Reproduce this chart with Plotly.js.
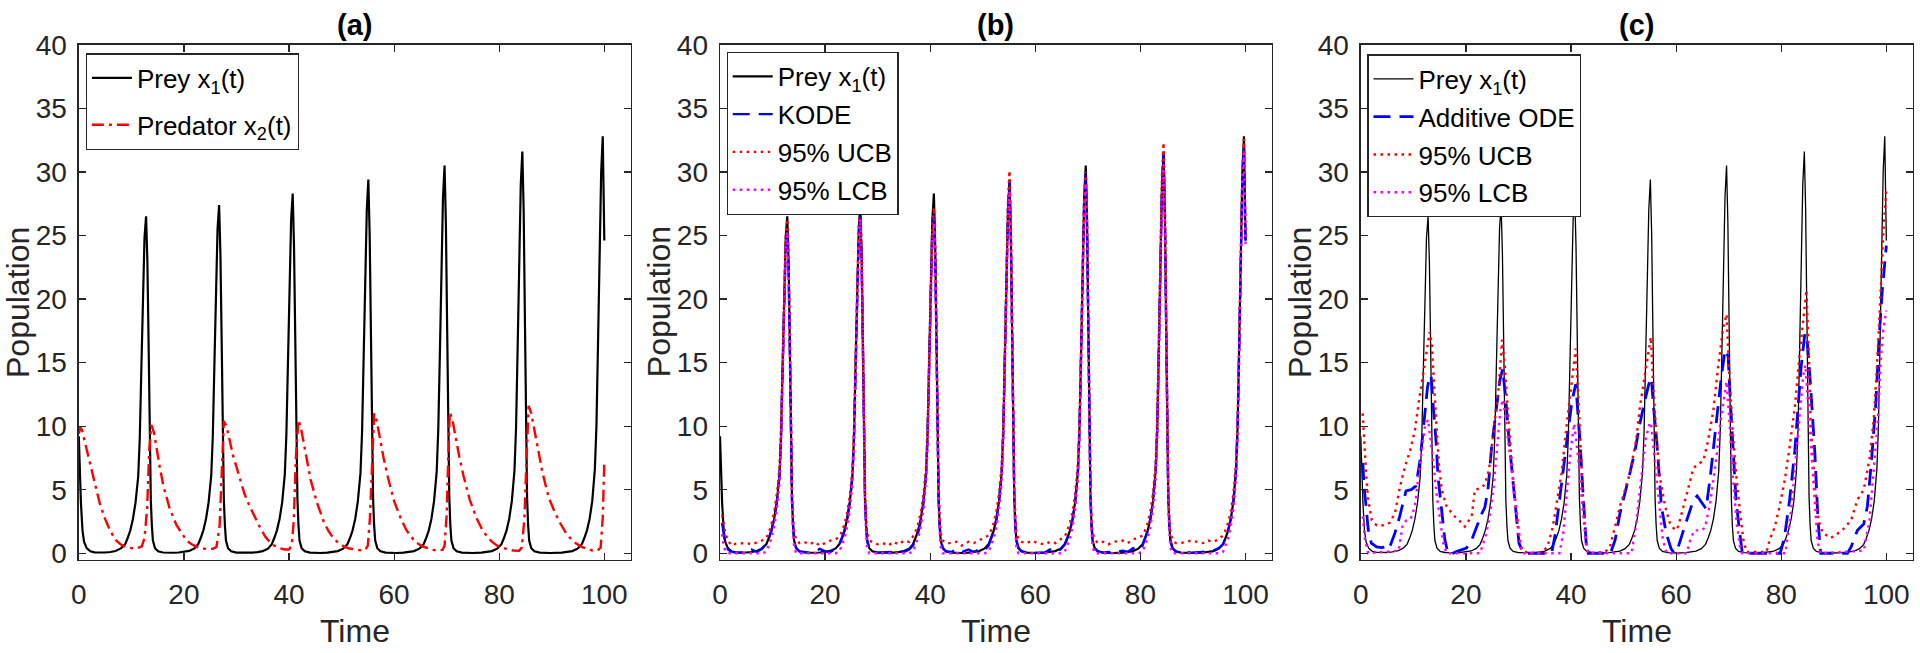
<!DOCTYPE html>
<html>
<head>
<meta charset="utf-8">
<script src="https://cdn.plot.ly/plotly-3.0.1.min.js"></script>
<style>
html,body{margin:0;padding:0;background:#fff;}
#chart{width:1920px;height:653px;}
</style>
</head>
<body>
<div id="chart"></div>
<script>
// ---------------- DATA ----------------
const xTickVals = [0, 20, 40, 60, 80, 100];
const yTickVals = [0, 5, 10, 15, 20, 25, 30, 35, 40];
const panelTitles = ['(a)', '(b)', '(c)'];

// Prey x1(t) (shared by all three panels)
const tPrey = [
  0, 0.2, 0.4, 0.7, 1.0, 1.5, 2.2, 3, 4,
  5, 6, 7, 8, 8.8, 9.3, 9.8, 10.3, 10.8, 11.3, 11.6, 11.9, 12.2, 12.5, 12.8,
  13.05, 13.3, 13.5, 13.7, 13.9, 14.1, 14.5, 15.1, 16, 17, 18,
  19, 20, 21, 22, 22.7, 23.2, 23.7, 24.2, 24.7, 25.2, 25.5, 25.8, 26.1, 26.4, 26.7,
  26.95, 27.2, 27.4, 27.6, 27.8, 28.0, 28.4, 29, 30, 31, 32,
  33, 34, 35, 36, 36.7, 37.2, 37.7, 38.2, 38.7, 39.2, 39.5, 39.8, 40.1, 40.4, 40.7,
  40.95, 41.2, 41.4, 41.6, 41.8, 42.0, 42.4, 43, 44, 45, 46,
  47.3, 48.3, 49.3, 50.3, 51.1, 51.6, 52.1, 52.6, 53.1, 53.6, 53.9, 54.2, 54.5, 54.8, 55.1,
  55.35, 55.6, 55.8, 56.0, 56.2, 56.4, 56.8, 57.4, 58.4, 59.4, 60.4,
  61.8, 62.8, 63.8, 64.8, 65.6, 66.1, 66.6, 67.1, 67.6, 68.1, 68.4, 68.7, 69.0, 69.3, 69.6,
  69.85, 70.1, 70.3, 70.5, 70.7, 70.9, 71.3, 71.9, 72.9, 73.9, 74.9,
  76.6, 77.6, 78.6, 79.6, 80.4, 80.9, 81.4, 81.9, 82.4, 82.9, 83.2, 83.5, 83.8, 84.1, 84.4,
  84.65, 84.9, 85.1, 85.3, 85.5, 85.7, 86.1, 86.7, 87.7, 88.7, 89.7,
  91.9, 92.9, 93.9, 94.9, 95.7, 96.2, 96.7, 97.2, 97.7, 98.2, 98.5, 98.8, 99.1, 99.4, 99.7, 100
];
const prey = [
  9.2, 6.0, 4.0, 1.8, 0.9, 0.4, 0.15, 0.07, 0.05,
  0.06, 0.1, 0.18, 0.38, 0.7, 1.2, 1.8, 2.7, 4.0, 6.0, 9.0, 14.5, 20.5, 24.8, 26.5,
  23, 16, 8.5, 4.2, 2.2, 1.0, 0.4, 0.15, 0.06, 0.04, 0.04,
  0.06, 0.1, 0.18, 0.38, 0.7, 1.2, 1.8, 2.7, 4.0, 6.1, 9.2, 14.8, 21, 25.5, 27.4,
  23.5, 16.3, 8.6, 4.2, 2.2, 1.0, 0.4, 0.15, 0.05, 0.03, 0.03,
  0.05, 0.09, 0.17, 0.36, 0.7, 1.2, 1.8, 2.7, 4.0, 6.2, 9.3, 15, 21.5, 26.2, 28.3,
  24.2, 16.6, 8.7, 4.3, 2.2, 1.0, 0.4, 0.15, 0.05, 0.03, 0.02,
  0.05, 0.09, 0.17, 0.36, 0.7, 1.2, 1.8, 2.7, 4.1, 6.3, 9.5, 15.3, 22, 27, 29.4,
  25, 17, 8.8, 4.3, 2.2, 1.0, 0.4, 0.15, 0.05, 0.03, 0.02,
  0.05, 0.09, 0.17, 0.36, 0.7, 1.2, 1.8, 2.7, 4.1, 6.4, 9.7, 15.5, 22.5, 28, 30.5,
  26, 17.5, 9, 4.4, 2.2, 1.0, 0.4, 0.15, 0.05, 0.03, 0.02,
  0.05, 0.09, 0.17, 0.36, 0.7, 1.2, 1.8, 2.7, 4.1, 6.5, 9.8, 16, 23, 29, 31.6,
  27, 18, 9, 4.4, 2.2, 1.0, 0.4, 0.15, 0.05, 0.03, 0.02,
  0.05, 0.09, 0.17, 0.36, 0.7, 1.2, 1.8, 2.7, 4.1, 6.6, 10, 16.5, 23.5, 30, 32.8, 24.6
];

// Predator x2(t) (panel a)
const tPred = [
  0, 0.3, 0.6, 1, 2, 3, 4, 5, 6, 7, 8, 9, 10, 11, 12, 12.5, 13, 13.4, 13.8,
  14.3, 14.8, 15.4, 16.1, 17.3, 18.6, 19.5, 20.5, 21.5, 22.4, 23.5, 24.5, 25.5, 26.2, 26.8, 27.2, 27.6,
  28.1, 28.6, 29.4, 30.0, 30.6, 31.5, 32.5, 33.5, 34.4, 35.5, 36.3, 37.2, 38.2, 39.2, 40.0, 40.5, 40.9, 41.3, 41.8,
  42.3, 42.8, 43.4, 44.1, 45.3, 46.6, 47.5, 48.5, 49.5, 50.5, 51.5, 52.5, 53.5, 54.5, 55.0, 55.4, 55.8, 56.2,
  56.7, 57.3, 58.0, 58.8, 60.0, 61.3, 62.3, 63.3, 64.3, 65.3, 66.3, 67.3, 68.3, 69.2, 69.6, 70.0, 70.3, 70.6,
  71.1, 71.7, 72.4, 73.2, 74.4, 75.7, 76.7, 77.7, 78.7, 79.7, 80.7, 81.7, 82.7, 83.8, 84.3, 84.8, 85.2, 85.6,
  86.1, 86.7, 87.4, 88.2, 89.4, 90.7, 91.7, 92.7, 93.7, 94.7, 95.7, 96.7, 97.7, 98.7, 99.3, 99.7, 100
];
const predator = [
  9.4, 9.9, 9.7, 9.0, 7.3, 5.4, 3.9, 2.7, 1.75, 1.05, 0.68, 0.48, 0.4, 0.38, 0.55, 1.2, 3.5, 8.1, 10.1,
  9.5, 8.1, 6.8, 5.3, 3.5, 2.2, 1.6, 1.0, 0.7, 0.5, 0.38, 0.33, 0.35, 0.5, 2.2, 6.9, 10.4,
  10.0, 9.1, 7.6, 6.8, 5.9, 4.7, 3.7, 2.8, 2.1, 1.3, 0.9, 0.6, 0.4, 0.3, 0.3, 0.6, 2.5, 7.5, 10.5,
  9.8, 8.6, 7.3, 5.8, 4.0, 2.5, 1.75, 1.15, 0.78, 0.52, 0.37, 0.28, 0.24, 0.26, 0.6, 2.8, 7.5, 11.0,
  10.4, 9.0, 7.5, 6.0, 4.1, 2.7, 1.85, 1.25, 0.82, 0.55, 0.38, 0.27, 0.22, 0.26, 0.6, 3.0, 7.5, 11.1,
  10.5, 9.1, 7.6, 6.1, 4.2, 2.75, 1.9, 1.3, 0.87, 0.58, 0.4, 0.28, 0.22, 0.2, 0.45, 2.8, 7.5, 11.6,
  11.0, 9.6, 8.0, 6.4, 4.4, 3.1, 2.3, 1.6, 1.1, 0.75, 0.5, 0.33, 0.22, 0.2, 0.45, 2.8, 7.2
];

// Panel b (same time grid as tPrey)
const kode = [
  null, null, 2.4, 1.3, 0.7, 0.3, 0.1, 0.05, 0.05,
  0.2, 0.3, 0.1, 0.35, 0.75, 1.2, 1.8, 2.7, 4.0, 6.0, 9.0, 14.3, 20, 24, 25.4,
  22.5, 15.8, 8.4, 4.2, 2.2, 1.0, 0.4, 0.15, 0.1, 0.05, 0.1,
  0.35, 0.15, 0.1, 0.35, 0.7, 1.2, 1.8, 2.7, 4.0, 6.1, 9.2, 14.6, 20.6, 25, 26.8,
  23, 16, 8.5, 4.2, 2.2, 1.0, 0.4, 0.15, 0.05, 0.05, 0.05,
  0.1, 0.15, 0.1, 0.3, 0.6, 1.0, 1.6, 2.5, 3.9, 6.1, 9.2, 14.8, 21, 25.5, 26.6,
  23.5, 16.3, 8.6, 4.3, 2.2, 1.0, 0.4, 0.15, 0.1, 0.3, 0.1,
  0.3, 0.1, 0.3, 0.2, 0.6, 1.2, 1.8, 2.7, 4.1, 6.3, 9.5, 15.3, 22, 27, 29.2,
  24.8, 16.8, 8.8, 4.3, 2.2, 1.0, 0.4, 0.15, 0.05, 0.05, 0.05,
  0.05, 0.3, 0.1, 0.3, 0.7, 1.2, 1.8, 2.7, 4.1, 6.4, 9.7, 15.5, 22.5, 27.8, 29.8,
  25.5, 17.3, 9, 4.4, 2.2, 1.0, 0.4, 0.15, 0.05, 0.1, 0.05,
  0.2, 0.1, 0.4, 0.2, 0.6, 1.2, 1.8, 2.7, 4.1, 6.5, 9.8, 16, 23, 28.8, 31.4,
  26.8, 17.8, 9, 4.4, 2.2, 1.0, 0.4, 0.15, 0.05, 0.1, 0.05,
  0.1, 0.3, 0.2, 0.4, 0.7, 1.2, 1.8, 2.7, 4.1, 6.6, 10, 16.3, 23.2, 29.5, 32.2, 24.6
];
const ucbB = [
  null, null, 3.0, 2.2, 1.6, 1.0, 0.6, 0.75, 0.8,
  0.8, 0.7, 0.85, 1.0, 1.2, 1.6, 2.3, 3.2, 4.6, 6.6, 9.6, 15, 21, 25, 26.3,
  23, 16.5, 9, 4.8, 2.8, 1.6, 1.1, 0.8, 0.9, 0.7, 0.9,
  0.6, 0.8, 1.0, 1.1, 1.3, 1.7, 2.3, 3.2, 4.5, 6.6, 9.7, 15.2, 21.3, 25.7, 27.3,
  23.6, 16.5, 9, 4.8, 2.8, 1.6, 1.0, 0.9, 0.7, 0.8, 0.6,
  0.9, 0.7, 1.0, 0.9, 1.3, 1.7, 2.3, 3.2, 4.5, 6.7, 9.8, 15.3, 21.5, 25.8, 27.2,
  24, 17, 9.2, 4.9, 2.8, 1.6, 1.0, 0.8, 0.8, 0.9, 0.6,
  0.9, 0.8, 1.0, 1.2, 1.4, 1.8, 2.4, 3.3, 4.7, 6.9, 10, 15.8, 22.6, 27.8, 30.1,
  25.5, 17.5, 9.3, 4.9, 2.8, 1.6, 1.1, 0.9, 0.8, 1.0, 0.8,
  0.7, 0.9, 0.8, 1.1, 1.3, 1.8, 2.4, 3.3, 4.7, 7.0, 10.2, 16, 23, 28, 30,
  26, 17.8, 9.5, 5.0, 2.8, 1.6, 1.1, 0.8, 0.9, 0.7, 0.9,
  1.0, 0.8, 1.1, 1.2, 1.4, 1.8, 2.4, 3.3, 4.7, 7.1, 10.4, 16.6, 23.7, 29.7, 32.3,
  27.5, 18.5, 9.5, 5.0, 2.8, 1.6, 1.1, 0.8, 0.8, 0.9, 1.0,
  0.8, 1.0, 0.9, 1.1, 1.4, 1.8, 2.4, 3.3, 4.7, 7.2, 10.6, 17, 24, 30.2, 32.6, 25
];
const lcbB = [
  null, null, 1.5, 0.6, 0.2, 0, 0, 0, 0,
  0, 0, 0, 0, 0.1, 0.6, 1.2, 2.1, 3.4, 5.4, 8.4, 13.8, 19.8, 24, 25.3,
  22, 15.5, 8, 3.7, 1.7, 0.5, 0, 0, 0, 0, 0,
  0, 0, 0, 0, 0.1, 0.6, 1.2, 2.1, 3.4, 5.5, 8.6, 14.2, 20.3, 24.6, 26.3,
  22.5, 15.5, 8, 3.7, 1.7, 0.5, 0, 0, 0, 0, 0,
  0, 0, 0, 0, 0.1, 0.6, 1.2, 2.1, 3.4, 5.6, 8.7, 14.3, 20.6, 24.8, 26,
  23, 15.8, 8.1, 3.8, 1.7, 0.5, 0, 0, 0, 0, 0,
  0, 0, 0, 0, 0.1, 0.6, 1.2, 2.1, 3.5, 5.7, 8.9, 14.6, 21.2, 26.2, 28.5,
  24.2, 16.4, 8.3, 3.8, 1.7, 0.5, 0, 0, 0, 0, 0,
  0, 0, 0, 0, 0.1, 0.6, 1.2, 2.1, 3.5, 5.8, 9.1, 14.8, 21.7, 27.2, 29.1,
  25.2, 16.8, 8.5, 3.9, 1.7, 0.5, 0, 0, 0, 0, 0,
  0, 0, 0, 0, 0.1, 0.6, 1.2, 2.1, 3.5, 5.9, 9.2, 15.3, 22.2, 28.2, 30.6,
  26.2, 17.4, 8.5, 3.9, 1.7, 0.5, 0, 0, 0, 0, 0,
  0, 0, 0, 0, 0.1, 0.6, 1.2, 2.1, 3.5, 6, 9.4, 15.8, 22.8, 29.2, 31.5, 24.3
];

// Panel c
const tAdd = [0.4, 0.6, 1.0, 1.4, 2.0, 3.0, 4.0, 4.6, 5.2, 5.6, 6.5, 7.4, 8.6, 9.6, 10.5, 11.3, 12.0, 12.7, 13.2, 13.4,
  13.8, 14.3, 14.7, 15.4, 16.0, 16.6, 17.5, 18.2, 19.2, 20.1, 21.1, 22.0, 23.0, 23.6, 24.2, 24.9, 25.7, 26.5, 27.0, 27.6,
  28.2, 28.9, 29.5, 30.1, 30.9, 36.3, 37.0, 37.8, 38.6, 39.4, 40.2, 40.9, 41.7, 42.2, 42.7, 43.0, 47.5, 48.4, 49.3, 50.3,
  51.2, 52.2, 53.1, 54.1, 54.8, 55.3, 55.7, 56.3, 56.8, 57.2, 58.1, 59.0, 59.6, 60.4, 61.4, 62.3, 63.3, 64.0, 65.0, 65.7,
  66.5, 67.5, 68.5, 69.3, 69.9, 70.3, 70.8, 71.4, 72.1, 72.6, 79.8, 80.6, 81.6, 82.6, 83.2, 83.8, 84.5, 85.0, 85.6, 86.4,
  87.0, 87.5, 92.6, 93.3, 94.5, 95.7, 96.4, 97.2, 98.0, 98.6, 99.2, 100];
const additive = [7.1, 5.3, 3.7, 1.9, 0.8, 0.5, 0.45, 0.5, 0.3, 0.6, 1.6, 2.9, 4.9, 5.0, 5.3, 7.4, 10.2, 13.1, 14.0, 13.9,
  11.5, 8.9, 6.0, 3.1, 1.05, 0, 0, 0.13, 0.26, 0.4, 1.05, 2.1, 3.1, 3.6, 5.0, 8.4, 11.3, 13.7, 14.5, 12.1,
  8.9, 5.8, 2.9, 0.8, 0, 0, 1.5, 4.0, 6.8, 9.5, 12.0, 13.3, 8.9, 5.3, 2.1, 0, 0, 1.05, 3.1, 4.7,
  6.3, 8.1, 10.2, 12.1, 13.3, 13.8, 11.5, 8.9, 6.0, 3.7, 1.6, 0.4, 0, 0.5, 1.8, 2.9, 4.2, 4.5, 3.9, 3.5,
  6.0, 10.0, 13.5, 16.0, 15.5, 12.1, 8.1, 4.2, 1.6, 0, 0, 1.2, 4.2, 8.1, 11.5, 14.7, 17.3, 16.5, 13.1, 7.9,
  2.6, 0, 0, 0.5, 1.8, 2.3, 3.7, 7.4, 11.8, 16.8, 20.5, 24.2];

const tUcbC = [0.36, 0.6, 1.0, 1.4, 2.1, 3.0, 4.3, 5.5, 6.5, 7.5, 8.4, 9.4, 10.3, 11.1, 11.9, 12.7, 13.1, 13.5, 13.9, 14.4,
  14.9, 15.4, 16.3, 17.6, 18.9, 19.8, 21.1, 21.7, 22.7, 23.6, 24.4, 25.2, 26.2, 26.9, 27.4, 28.0, 28.7, 29.3, 30.0, 30.6,
  32.0, 34.5, 35.5, 36.5, 37.3, 38.2, 39.2, 40.4, 40.9, 41.4, 41.8, 42.3, 42.8, 43.3, 46.5, 47.4, 48.4, 49.3, 50.3, 51.2,
  52.4, 53.1, 54.3, 55.2, 55.6, 56.3, 56.9, 57.9, 58.8, 59.8, 60.4, 61.4, 62.3, 63.3, 64.2, 65.2, 66.1, 67.1, 68.0, 68.9,
  69.6, 70.2, 70.8, 71.4, 72.1, 72.8, 73.4, 77.2, 77.8, 78.8, 79.7, 80.7, 81.6, 82.6, 83.4, 84.2, 84.8, 85.3, 85.6, 86.4,
  87.1, 87.9, 89.4, 90.6, 91.8, 93.3, 94.5, 95.7, 96.8, 97.6, 98.2, 98.8, 99.4, 100];
const ucbC = [11.0, 8.9, 6.3, 4.2, 2.6, 2.2, 2.2, 2.4, 3.15, 5.3, 6.8, 8.1, 9.7, 12.1, 14.2, 16.5, 17.4, 16.5, 13.4, 10.0,
  6.8, 5.0, 3.7, 3.0, 2.5, 2.1, 2.9, 5.0, 5.1, 5.4, 6.6, 9.4, 12.9, 16.8, 14.7, 11.0, 7.3, 4.2, 1.6, 0.25,
  0, 0.1, 0.5, 2.0, 4.0, 6.3, 10.2, 14.7, 16.1, 12.1, 8.1, 4.2, 1.05, 0, 0.1, 0.5, 2.1, 3.7, 5.0, 6.3,
  8.9, 11.5, 14.7, 17.0, 13.4, 8.9, 6.0, 3.7, 2.4, 1.8, 2.1, 3.7, 5.3, 6.7, 7.0, 7.3, 8.9, 11.3, 14.7, 17.6,
  18.8, 13.4, 9.4, 6.3, 3.5, 1.05, 0.1, 0.1, 1.05, 2.1, 3.7, 5.8, 8.4, 11.5, 15.2, 18.4, 20.7, 15.0, 10.5, 5.3,
  2.6, 1.6, 1.2, 1.5, 1.9, 2.6, 4.2, 5.0, 7.4, 10.5, 14.5, 19.5, 25.0, 28.7];

const tLcbC = [0.36, 0.8, 1.4, 7.2, 8.0, 8.7, 9.5, 10.3, 10.9, 11.6, 12.2, 12.8, 13.3, 13.9, 14.4, 15.1, 15.7, 16.3, 22.7, 23.9,
  24.6, 25.3, 26.0, 26.6, 27.1, 27.7, 28.4, 29.0, 29.6, 30.3, 30.8, 37.8, 38.5, 39.2, 39.9, 40.6, 41.5, 42.2, 42.8, 43.2,
  51.5, 52.3, 53.2, 54.2, 55.0, 55.3, 56.0, 56.8, 57.5, 58.2, 62.0, 62.8, 63.5, 64.8, 65.5, 66.5, 67.5, 68.5, 69.3, 69.6,
  70.2, 70.8, 71.5, 72.2, 72.6, 80.8, 81.8, 82.6, 83.4, 84.2, 84.6, 85.4, 86.2, 86.9, 87.4, 95.7, 96.8, 97.6, 98.4, 98.9,
  99.4, 100];
const lcbC = [2.9, 1.05, 0, 0.2, 2.3, 2.6, 2.7, 3.7, 5.8, 8.1, 10.0, 10.5, 8.9, 6.8, 4.7, 2.6, 0.8, 0, 0, 1.6,
  3.1, 5.3, 8.4, 11.5, 12.1, 10.0, 7.4, 5.3, 3.1, 1.05, 0, 0, 1.5, 4.5, 8.0, 10.2, 7.0, 3.5, 1.0, 0,
  0, 2.0, 5.5, 9.0, 10.3, 10.0, 7.0, 3.5, 1.0, 0, 0, 1.2, 1.8, 1.8, 2.0, 4.0, 7.0, 10.5, 13.0, 13.5,
  10.0, 6.0, 2.5, 0.3, 0, 0, 3.0, 6.5, 10.5, 14.0, 14.8, 10.0, 4.5, 1.0, 0, 0.2, 2.6, 6.6, 10.5, 15.0,
  17.5, 19.1];

// ---------------- STYLE / LAYOUT ----------------
const FONT = '"Liberation Sans", Arial, Helvetica, sans-serif';
const TICK = 28, LAB = 32, TIT = 29, LEG = 26;
const TXT = '#262626', AX = '#262626';

const W = 1920, H = 653;
const boxLeft = [78.8, 720.0, 1360.8];
const boxW = 551.8;
const boxTop = 44.8, boxBot = 559.6;
const px2x = p => p / W;
const px2y = p => (H - p) / H;

function xaxis(i) {
  return {
    domain: [px2x(boxLeft[i]), px2x(boxLeft[i] + boxW)],
    anchor: i === 0 ? 'y' : 'y' + (i + 1),
    range: [0, 105], tickvals: xTickVals, ticktext: xTickVals.map(String),
    ticks: 'inside', ticklen: 7, tickwidth: 1.2, tickcolor: AX,
    showline: true, linecolor: AX, linewidth: 1.4, mirror: 'ticks',
    showgrid: false, zeroline: false, fixedrange: true,
    tickfont: {family: FONT, size: TICK, color: TXT}, ticklabelstandoff: 9
  };
}
function yaxis(i) {
  return {
    domain: [px2y(boxBot), px2y(boxTop)],
    anchor: i === 0 ? 'x' : 'x' + (i + 1),
    range: [-0.5, 40], tickvals: yTickVals, ticktext: yTickVals.map(String),
    ticks: 'inside', ticklen: 7, tickwidth: 1.2, tickcolor: AX,
    showline: true, linecolor: AX, linewidth: 1.4, mirror: 'ticks',
    showgrid: false, zeroline: false, fixedrange: true,
    tickfont: {family: FONT, size: TICK, color: TXT}, ticklabelstandoff: 5
  };
}
function legend(xp, yp, gap) {
  return {
    x: px2x(xp), y: px2y(yp), xanchor: 'left', yanchor: 'top',
    bgcolor: '#ffffff', bordercolor: '#262626', borderwidth: 1.2,
    font: {family: FONT, size: LEG, color: '#000'}, itemwidth: 40, tracegroupgap: gap,
    traceorder: 'grouped'
  };
}

const DOT = '2.5px,4.5px';
const DASH = '17px,9px';
const traces = [
  // (a)
  {x: tPrey, y: prey, name: 'Prey x<sub>1</sub>(t)', xaxis: 'x', yaxis: 'y', legend: 'legend', legendgroup: 'a1',
   mode: 'lines', line: {color: '#000', width: 2.2}},
  {x: tPred, y: predator, name: 'Predator x<sub>2</sub>(t)', xaxis: 'x', yaxis: 'y', legend: 'legend', legendgroup: 'a2',
   mode: 'lines', line: {color: '#ff0000', width: 2.4, dash: '12px,5px,3px,5px'}},
  // (b)
  {x: tPrey, y: prey, name: 'Prey x<sub>1</sub>(t)', xaxis: 'x2', yaxis: 'y2', legend: 'legend2', legendgroup: 'b1',
   mode: 'lines', line: {color: '#000', width: 2.2}},
  {x: tPrey, y: kode, name: 'KODE', xaxis: 'x2', yaxis: 'y2', legend: 'legend2', legendgroup: 'b2',
   mode: 'lines', line: {color: '#0000ff', width: 2.4, dash: DASH}},
  {x: tPrey, y: ucbB, name: '95% UCB', xaxis: 'x2', yaxis: 'y2', legend: 'legend2', legendgroup: 'b3',
   mode: 'lines', line: {color: '#ff0000', width: 2.4, dash: DOT}},
  {x: tPrey, y: lcbB, name: '95% LCB', xaxis: 'x2', yaxis: 'y2', legend: 'legend2', legendgroup: 'b4',
   mode: 'lines', line: {color: '#ff00ff', width: 2.4, dash: DOT}},
  // (c)
  {x: tPrey, y: prey, name: 'Prey x<sub>1</sub>(t)', xaxis: 'x3', yaxis: 'y3', legend: 'legend3', legendgroup: 'c1',
   mode: 'lines', line: {color: '#000', width: 1.3}},
  {x: tAdd, y: additive, name: 'Additive ODE', xaxis: 'x3', yaxis: 'y3', legend: 'legend3', legendgroup: 'c2',
   mode: 'lines', line: {color: '#0000ff', width: 2.8, dash: DASH}},
  {x: tUcbC, y: ucbC, name: '95% UCB', xaxis: 'x3', yaxis: 'y3', legend: 'legend3', legendgroup: 'c3',
   mode: 'lines', line: {color: '#ff0000', width: 2.4, dash: DOT}},
  {x: tLcbC, y: lcbC, name: '95% LCB', xaxis: 'x3', yaxis: 'y3', legend: 'legend3', legendgroup: 'c4',
   mode: 'lines', line: {color: '#ff00ff', width: 2.4, dash: DOT}}
];

const annotations = [];
for (let i = 0; i < 3; i++) {
  const cx = px2x(boxLeft[i] + boxW / 2);
  annotations.push({xref: 'paper', yref: 'paper', x: cx, y: px2y(25), xanchor: 'center', yanchor: 'middle',
    showarrow: false, text: '<b>' + panelTitles[i] + '</b>', font: {family: FONT, size: TIT, color: '#000'}});
  annotations.push({xref: 'paper', yref: 'paper', x: cx, y: px2y(631), xanchor: 'center', yanchor: 'middle',
    showarrow: false, text: 'Time', font: {family: FONT, size: LAB, color: TXT}});
  annotations.push({xref: 'paper', yref: 'paper', x: px2x(boxLeft[i] - 61), y: px2y((boxTop + boxBot) / 2),
    xanchor: 'center', yanchor: 'middle', textangle: -90,
    showarrow: false, text: 'Population', font: {family: FONT, size: LAB, color: TXT}});
}

const layout = {
  width: W, height: H,
  margin: {l: 0, r: 0, t: 0, b: 0, pad: 0},
  paper_bgcolor: '#fff', plot_bgcolor: '#fff',
  showlegend: true,
  font: {family: FONT, color: TXT},
  xaxis: xaxis(0), yaxis: yaxis(0),
  xaxis2: xaxis(1), yaxis2: yaxis(1),
  xaxis3: xaxis(2), yaxis3: yaxis(2),
  legend: legend(85.7, 53.3, 10),
  legend2: legend(726.5, 51.7, 1),
  legend3: legend(1367.3, 54.3, 1),
  annotations: annotations
};

Plotly.newPlot('chart', traces, layout, {displayModeBar: false, staticPlot: true});
</script>
</body>
</html>
